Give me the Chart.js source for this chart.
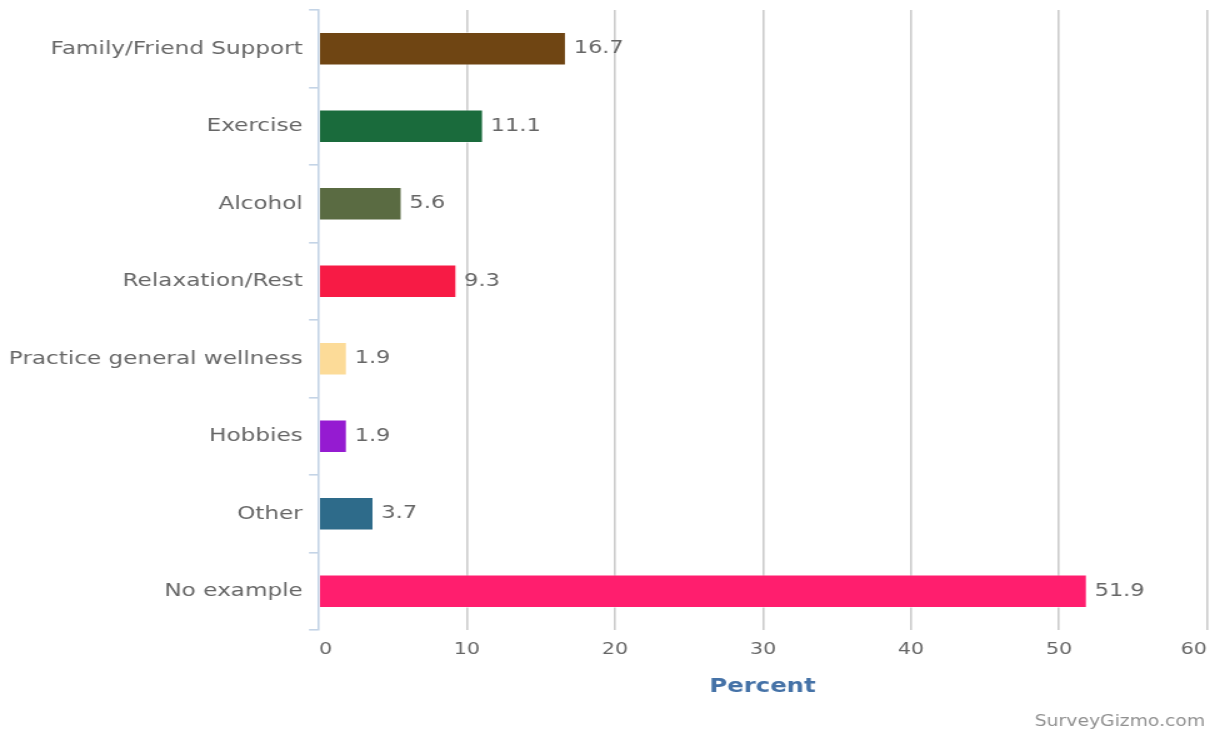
<!DOCTYPE html>
<html lang="en">
<head>
    <meta charset="UTF-8">
    <title>Percent</title>
    <script src="https://cdn.jsdelivr.net/npm/chart.js"></script>
    <style>
        html, body { margin: 0; padding: 0; background: #fff; overflow: hidden; }
        /* the source picture is stretched sideways, so draw narrow and widen it */
        .chart-container {
            position: relative;
            width: 968px;
            height: 730px;
            transform: scaleX(1.25);
            transform-origin: 0 0;
        }
    </style>
</head>
<body>
    <div class="chart-container">
        <canvas id="copingChart"></canvas>
    </div>

    <script>
        const categories = ['Family/Friend Support', 'Exercise', 'Alcohol', 'Relaxation/Rest',
            'Practice general wellness', 'Hobbies', 'Other', 'No example'];
        const percents = [16.7, 11.1, 5.6, 9.3, 1.9, 1.9, 3.7, 51.9];
        const barColors = ['#6f4513', '#1a6b3c', '#5a6b42', '#f71b45', '#fcdb98', '#951bd1', '#2e6b8a', '#ff1e6e'];
        const xTicks = [0, 10, 20, 30, 40, 50, 60];

        const FONT = "'DejaVu Sans', sans-serif";

        // values printed right after each bar
        const valueLabels = {
            id: 'valueLabels',
            afterDatasetsDraw(chart) {
                const ctx = chart.ctx;
                const meta = chart.getDatasetMeta(0);
                ctx.save();
                ctx.font = '18px ' + FONT;
                ctx.fillStyle = '#666666';
                ctx.textAlign = 'left';
                ctx.textBaseline = 'middle';
                meta.data.forEach((bar, i) => {
                    ctx.fillText(percents[i].toFixed(1), bar.x + 6, bar.y);
                });
                ctx.restore();
            }
        };

        // axis title and credit line
        const extraText = {
            id: 'extraText',
            afterDraw(chart) {
                const ctx = chart.ctx;
                ctx.save();
                ctx.textBaseline = 'middle';
                ctx.font = 'bold 19.5px ' + FONT;
                ctx.fillStyle = '#4572a7';
                ctx.textAlign = 'center';
                ctx.fillText('Percent', 610, 687);
                ctx.font = '15px ' + FONT;
                ctx.fillStyle = '#909090';
                ctx.textAlign = 'right';
                ctx.fillText('SurveyGizmo.com', 964, 722);
                ctx.restore();
            }
        };

        const ctx = document.getElementById('copingChart').getContext('2d');
        new Chart(ctx, {
            type: 'bar',
            data: {
                labels: categories,
                datasets: [{
                    data: percents,
                    backgroundColor: barColors,
                    borderColor: 'rgba(255,255,255,0.5)',
                    borderWidth: 1,
                    categoryPercentage: 1.0,
                    barPercentage: 0.43
                }]
            },
            plugins: [valueLabels, extraText],
            options: {
                indexAxis: 'y',
                responsive: true,
                maintainAspectRatio: false,
                animation: false,
                layout: { padding: { top: 10, right: 2.4, left: 0, bottom: 0 } },
                plugins: {
                    legend: { display: false },
                    tooltip: { enabled: false }
                },
                scales: {
                    x: {
                        min: 0,
                        max: 60,
                        afterBuildTicks(axis) {
                            axis.ticks = xTicks.map(v => ({ value: v }));
                        },
                        afterFit(axis) {
                            axis.height = 100;
                            axis.paddingLeft = 0;
                            axis.paddingRight = 0;
                        },
                        border: { display: false },
                        grid: {
                            color: ctx => ctx.tick && ctx.tick.value === 0 ? 'rgba(0,0,0,0)' : '#cccccc',
                            lineWidth: 1.6,
                            drawTicks: false
                        },
                        ticks: {
                            align: 'inner',
                            padding: 10,
                            color: '#666666',
                            font: { family: FONT, size: 16.5 }
                        }
                    },
                    y: {
                        afterFit(axis) {
                            axis.width = 255.2;
                            axis.paddingTop = 0;
                            axis.paddingBottom = 0;
                        },
                        border: { display: true, color: '#c4d4e6', width: 1.6 },
                        grid: {
                            offset: true,
                            drawOnChartArea: false,
                            color: '#c4d4e6',
                            lineWidth: 1.6,
                            tickLength: 8
                        },
                        ticks: {
                            padding: 5,
                            color: '#666666',
                            font: { family: FONT, size: 18.5 }
                        }
                    }
                }
            }
        });
    </script>
</body>
</html>
